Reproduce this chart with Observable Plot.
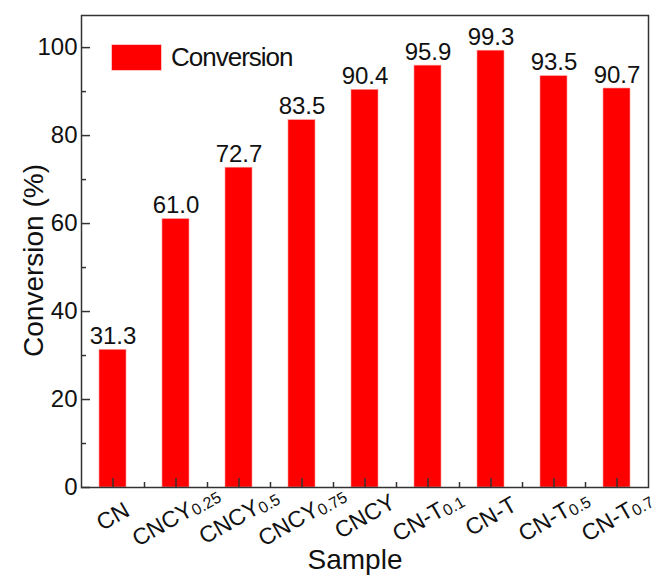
<!DOCTYPE html>
<html>
<head>
<meta charset="utf-8">
<script src="https://cdn.jsdelivr.net/npm/d3@7"></script>
<script src="https://cdn.jsdelivr.net/npm/@observablehq/plot@0.6"></script>
<style>
  html, body { margin: 0; padding: 0; background: #fff; }
  #wrap { position: relative; width: 659px; height: 577px; font-family: "Liberation Sans", Arial, sans-serif; color: #111; }
  #legend { position: absolute; left: 112px; top: 45px; display: flex; align-items: center; }
  #legend .swatch { width: 49px; height: 25px; background: #ff0000; box-shadow: 0 0 0 0.6px #ff9a9a; }
  #legend .name { margin-left: 10px; font-size: 26px; letter-spacing: -1px; line-height: 25px; }
</style>
</head>
<body>
<div id="wrap">
  <div id="legend"><div class="swatch"></div><div class="name">Conversion</div></div>
</div>
<script>
// Sample names (trailing number is written as a subscript) and conversion (%)
const samples = ["CN", "CNCY0.25", "CNCY0.5", "CNCY0.75", "CNCY", "CN-T0.1", "CN-T", "CN-T0.5", "CN-T0.7"];
const conversion = [31.3, 61.0, 72.7, 83.5, 90.4, 95.9, 99.3, 93.5, 90.7];

// Axis ticks
const yMajor = [0, 20, 40, 60, 80, 100];
const yMinor = [10, 30, 50, 70, 90];
const xMajor = samples.map((_, i) => i + 1);
const xMinor = samples.slice(1).map((_, i) => i + 1.5);

const yTitle = "Conversion (%)";
const xTitle = "Sample";

const data = samples.map((s, i) => ({sample: s, pos: i + 1, value: conversion[i]}));

const ink = "#333";
const fmt = d3.format(".1f");

const chart = Plot.plot({
  width: 659,
  height: 577,
  marginLeft: 81,
  marginRight: 11,
  marginTop: 15,
  marginBottom: 90,
  style: {fontFamily: "'Liberation Sans', Arial, sans-serif", color: "#111", background: "#fff"},
  x: {type: "linear", domain: [0.5, 9.5], axis: null},
  y: {domain: [0, 107.3], axis: null},
  marks: [
    // bars
    Plot.rectY(data, {
      x1: d => d.pos - 0.5, x2: d => d.pos + 0.5, y: "value",
      insetLeft: 18, insetRight: 18,
      fill: "#ff0000", stroke: "#ff9a9a", strokeWidth: 0.6
    }),
    // value labels above bars
    Plot.text(data, {
      x: "pos", y: "value", text: d => fmt(d.value),
      dy: -6, lineAnchor: "bottom", fontSize: 24, fill: "#111"
    }),
    // y tick labels
    Plot.axisY({ticks: yMajor, tickSize: 0, tickPadding: 4, fontSize: 24, tickFormat: d => String(d), label: null, color: "#111"}),
    // inward y ticks
    Plot.axisY({ticks: yMajor, tickSize: 9, dx: 9, tickFormat: () => "", label: null, stroke: ink, strokeWidth: 1.5}),
    Plot.axisY({ticks: yMinor, tickSize: 5, dx: 5, tickFormat: () => "", label: null, stroke: ink, strokeWidth: 1.5}),
    // inward x ticks
    Plot.axisX({ticks: xMajor, tickSize: 9, dy: -9, tickFormat: () => "", label: null, stroke: ink, strokeWidth: 1.5}),
    Plot.axisX({ticks: xMinor, tickSize: 5, dy: -5, tickFormat: () => "", label: null, stroke: ink, strokeWidth: 1.5}),
    // tilted sample labels under the axis
    Plot.text(data, {
      x: "pos", text: "sample", frameAnchor: "bottom", dy: 29,
      rotate: -30, textAnchor: "middle", lineAnchor: "middle",
      fontSize: 23, fill: "#111"
    }),
    // axis titles
    Plot.text([yTitle], {
      text: d => d, frameAnchor: "left", dx: -39, dy: 9, rotate: -90,
      textAnchor: "middle", lineAnchor: "bottom", fontSize: 28, fill: "#111"
    }),
    Plot.text([xTitle], {
      text: d => d, frameAnchor: "bottom", dy: 81, dx: -10,
      textAnchor: "middle", lineAnchor: "bottom", fontSize: 28, fill: "#111"
    }),
    Plot.frame({stroke: ink, strokeWidth: 1.5})
  ]
});

document.getElementById("wrap").prepend(chart);

// Sample labels: the numeric suffix is set as a smaller, lowered subscript
const sampleSet = new Set(samples);
const ns = "http://www.w3.org/2000/svg";
for (const node of Array.from(chart.querySelectorAll("text"))) {
  const s = (node.textContent || "").trim();
  if (!sampleSet.has(s)) continue;
  const m = /^([A-Za-z-]+)([\d.]*)$/.exec(s);
  if (!m || !m[2]) continue;
  while (node.firstChild) node.removeChild(node.firstChild);
  const base = document.createElementNS(ns, "tspan");
  base.textContent = m[1];
  const sub = document.createElementNS(ns, "tspan");
  sub.setAttribute("font-size", "16");
  sub.setAttribute("dy", "2");
  sub.textContent = m[2];
  node.appendChild(base);
  node.appendChild(sub);
}
</script>
</body>
</html>
